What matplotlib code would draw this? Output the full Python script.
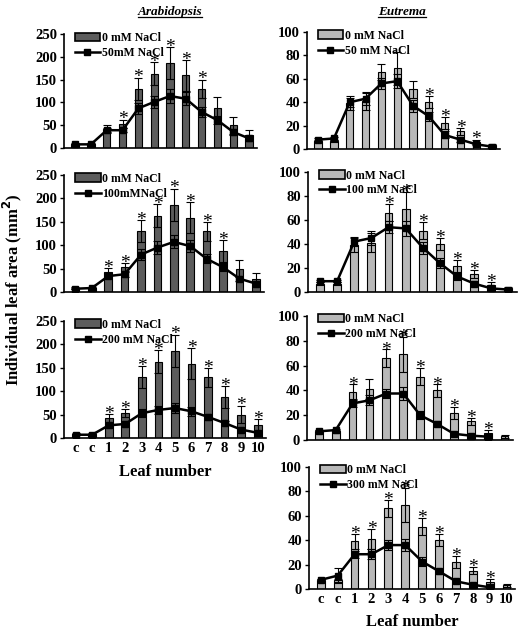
import numpy as np
import matplotlib
matplotlib.use('Agg')
import matplotlib.pyplot as plt
from matplotlib.patches import Patch
from matplotlib.lines import Line2D

plt.rcParams['font.family'] = ['Liberation Serif', 'DejaVu Serif']
plt.rcParams['font.weight'] = 'bold'

leaves = ["c", "c", "1", "2", "3", "4", "5", "6", "7", "8", "9", "10"]

# Arabidopsis, control bars (same in every panel)
ara_ctrl     = [8, 8, 42, 53, 130, 163, 186, 159, 130, 88, 50, 28]
ara_ctrl_err = [2, 2, 9, 9, 24, 25, 35, 33, 20, 23, 19, 12]
ara_50       = [8, 8, 39, 39, 87, 101, 114, 108, 79, 61, 35, 21]
ara_50_err   = [1, 1, 4, 5, 12, 14, 15, 14, 11, 9, 7, 5]
ara_100      = [7, 8.5, 34, 38, 80, 95, 107, 98, 71, 53, 28.5, 18]
ara_100_err  = [1, 1, 4, 5, 11, 13, 14, 13, 10, 8, 6, 4]
ara_200      = [7, 7, 27, 30, 53, 60, 64, 57, 45, 32, 18, 11]
ara_200_err  = [1, 1, 4, 4, 8, 9, 10, 9, 7, 5, 4, 3]

# Eutrema, control bars (same in every panel)
eut_ctrl     = [7, 7, 39, 41, 66, 69, 51, 40, 22, 15, 6, 3]
eut_ctrl_err = [1, 1, 6, 8, 7, 14, 7, 5, 5, 3, 2, 1]
eut_50       = [8, 9, 40, 43, 56, 58, 37, 28, 12, 8, 4, 2]
eut_50_err   = [1, 1, 4, 5, 5, 6, 5, 4, 3, 2, 1, 0.5]
eut_100      = [9, 9, 42, 45, 54, 53, 37, 24, 13, 7, 3, 2]
eut_100_err  = [1, 1, 4, 6, 5, 6, 5, 4, 3, 2, 1, 0.5]
eut_200      = [7, 8, 29.5, 32, 37.5, 37.5, 20, 13, 5, 3.5, 2.7, np.nan]
eut_200_err  = [1, 1, 3, 4, 4, 5, 3, 2, 1, 1, 1, np.nan]
eut_300      = [7.5, 11, 28.5, 28.5, 36, 36, 22.5, 14.5, 6.3, 3.5, 1.4, np.nan]
eut_300_err  = [1, 6, 3, 4, 4, 5, 4, 2, 1, 1, 0.5, np.nan]

# leaves with significant difference (index into leaves)
stars_ara = [[3, 4, 5, 6, 7, 8], [2, 3, 4, 5, 6, 7, 8, 9], list(range(2, 12))]
stars_eut = [[7, 8, 9, 10], [4, 5, 6, 7, 8, 9, 10],
             [2, 4, 5, 6, 7, 8, 9, 10], [2, 3, 4, 5, 6, 7, 8, 9, 10]]

W, H = 520, 629
fig = plt.figure(figsize=(5.2, 6.29), dpi=100)

def rect(x0, x1, ytop, ybot):
    return [x0 / W, 1 - ybot / H, (x1 - x0) / W, (ybot - ytop) / H]

x = np.arange(len(leaves))

def panel(r, ctrl, cerr, trt, terr, label, color, ymax, ystep, stars, xlab):
    ax = fig.add_axes(r)
    ax.bar(x, ctrl, width=0.46, color=color, edgecolor='black', linewidth=0.8, zorder=2)
    ax.errorbar(x, ctrl, yerr=cerr, fmt='none', ecolor='black', elinewidth=0.8,
                capsize=3, capthick=0.8, zorder=3)
    ax.errorbar(x, trt, yerr=terr, fmt='-s', color='black', lw=1.8, ms=5,
                elinewidth=0.8, capsize=3, capthick=0.8, zorder=4)
    for i in stars:
        ax.text(x[i], ctrl[i] + cerr[i] - ymax * 0.075, "*", ha='center', va='bottom',
                fontsize=14, fontweight='normal', zorder=5)
    ax.set_xlim(-0.7, 11.5)
    ax.set_ylim(0, ymax)
    ax.set_yticks(np.arange(0, ymax + 1, ystep))
    for s in ['top', 'right']:
        ax.spines[s].set_visible(False)
    for s in ['left', 'bottom']:
        ax.spines[s].set_linewidth(1.2)
    ax.tick_params(axis='y', direction='out', length=3, width=1, labelsize=10.5, pad=2)
    ax.tick_params(axis='x', length=0, labelsize=10.5, pad=3)
    ax.set_xticks(x)
    if xlab:
        ax.set_xticklabels(leaves, fontweight='bold')
        ax.set_xlabel("Leaf number", fontsize=12, fontweight='bold', labelpad=6)
    else:
        ax.set_xticklabels([])
    for t in ax.get_yticklabels():
        t.set_fontweight('bold')
    handles = [Patch(facecolor=color, edgecolor='black', linewidth=1.2),
               Line2D([], [], color='black', lw=1.8, marker='s', ms=5)]
    ax.legend(handles, ["0 mM NaCl", label], loc='upper left', bbox_to_anchor=(0.03, 1.06),
              frameon=False, handlelength=2.2, handletextpad=0.1,
              labelspacing=0.25, borderaxespad=0, prop={'weight': 'bold', 'size': 8.5})
    return ax

dark = '#5c5c5c'
light = '#b8b8b8'

panel(rect(64, 257, 34, 148), ara_ctrl, ara_ctrl_err, ara_50, ara_50_err,
      "50mM NaCl", dark, 250, 50, stars_ara[0], False)
panel(rect(64, 264, 175, 292), ara_ctrl, ara_ctrl_err, ara_100, ara_100_err,
      "100mMNaCl", dark, 250, 50, stars_ara[1], False)
panel(rect(64, 266, 321, 438), ara_ctrl, ara_ctrl_err, ara_200, ara_200_err,
      "200 mM NaCl", dark, 250, 50, stars_ara[2], True)

panel(rect(307, 500, 32, 149), eut_ctrl, eut_ctrl_err, eut_50, eut_50_err,
      "50 mM NaCl", light, 100, 20, stars_eut[0], False)
panel(rect(308, 517, 172, 292), eut_ctrl, eut_ctrl_err, eut_100, eut_100_err,
      "100 mM NaCl", light, 100, 20, stars_eut[1], False)
panel(rect(307, 513, 316, 440), eut_ctrl, eut_ctrl_err, eut_200, eut_200_err,
      "200 mM NaCl", light, 100, 20, stars_eut[2], False)
panel(rect(309, 515, 467, 589), eut_ctrl, eut_ctrl_err, eut_300, eut_300_err,
      "300 mM NaCl", light, 100, 20, stars_eut[3], True)

fig.text(12 / W, 1 - 290 / H, "Individual leaf area (mm$^\\mathbf{2}$)", rotation=90,
         ha='center', va='center', fontsize=12, fontweight='bold')

titles = []
for tx, name in [(170, "Arabidopsis"), (402, "Eutrema")]:
    titles.append(fig.text(tx / W, 1 - 12 / H, name, ha='center', va='center',
                           fontsize=9.5, fontweight='bold', fontstyle='italic'))

# underline the species names
fig.canvas.draw()
rend = fig.canvas.get_renderer()
for t in titles:
    bb = t.get_window_extent(rend).transformed(fig.transFigure.inverted())
    fig.add_artist(Line2D([bb.x0, bb.x1], [bb.y0 + 0.001, bb.y0 + 0.001],
                          color='black', lw=0.9, transform=fig.transFigure))

fig.savefig("out.png", dpi=100)
